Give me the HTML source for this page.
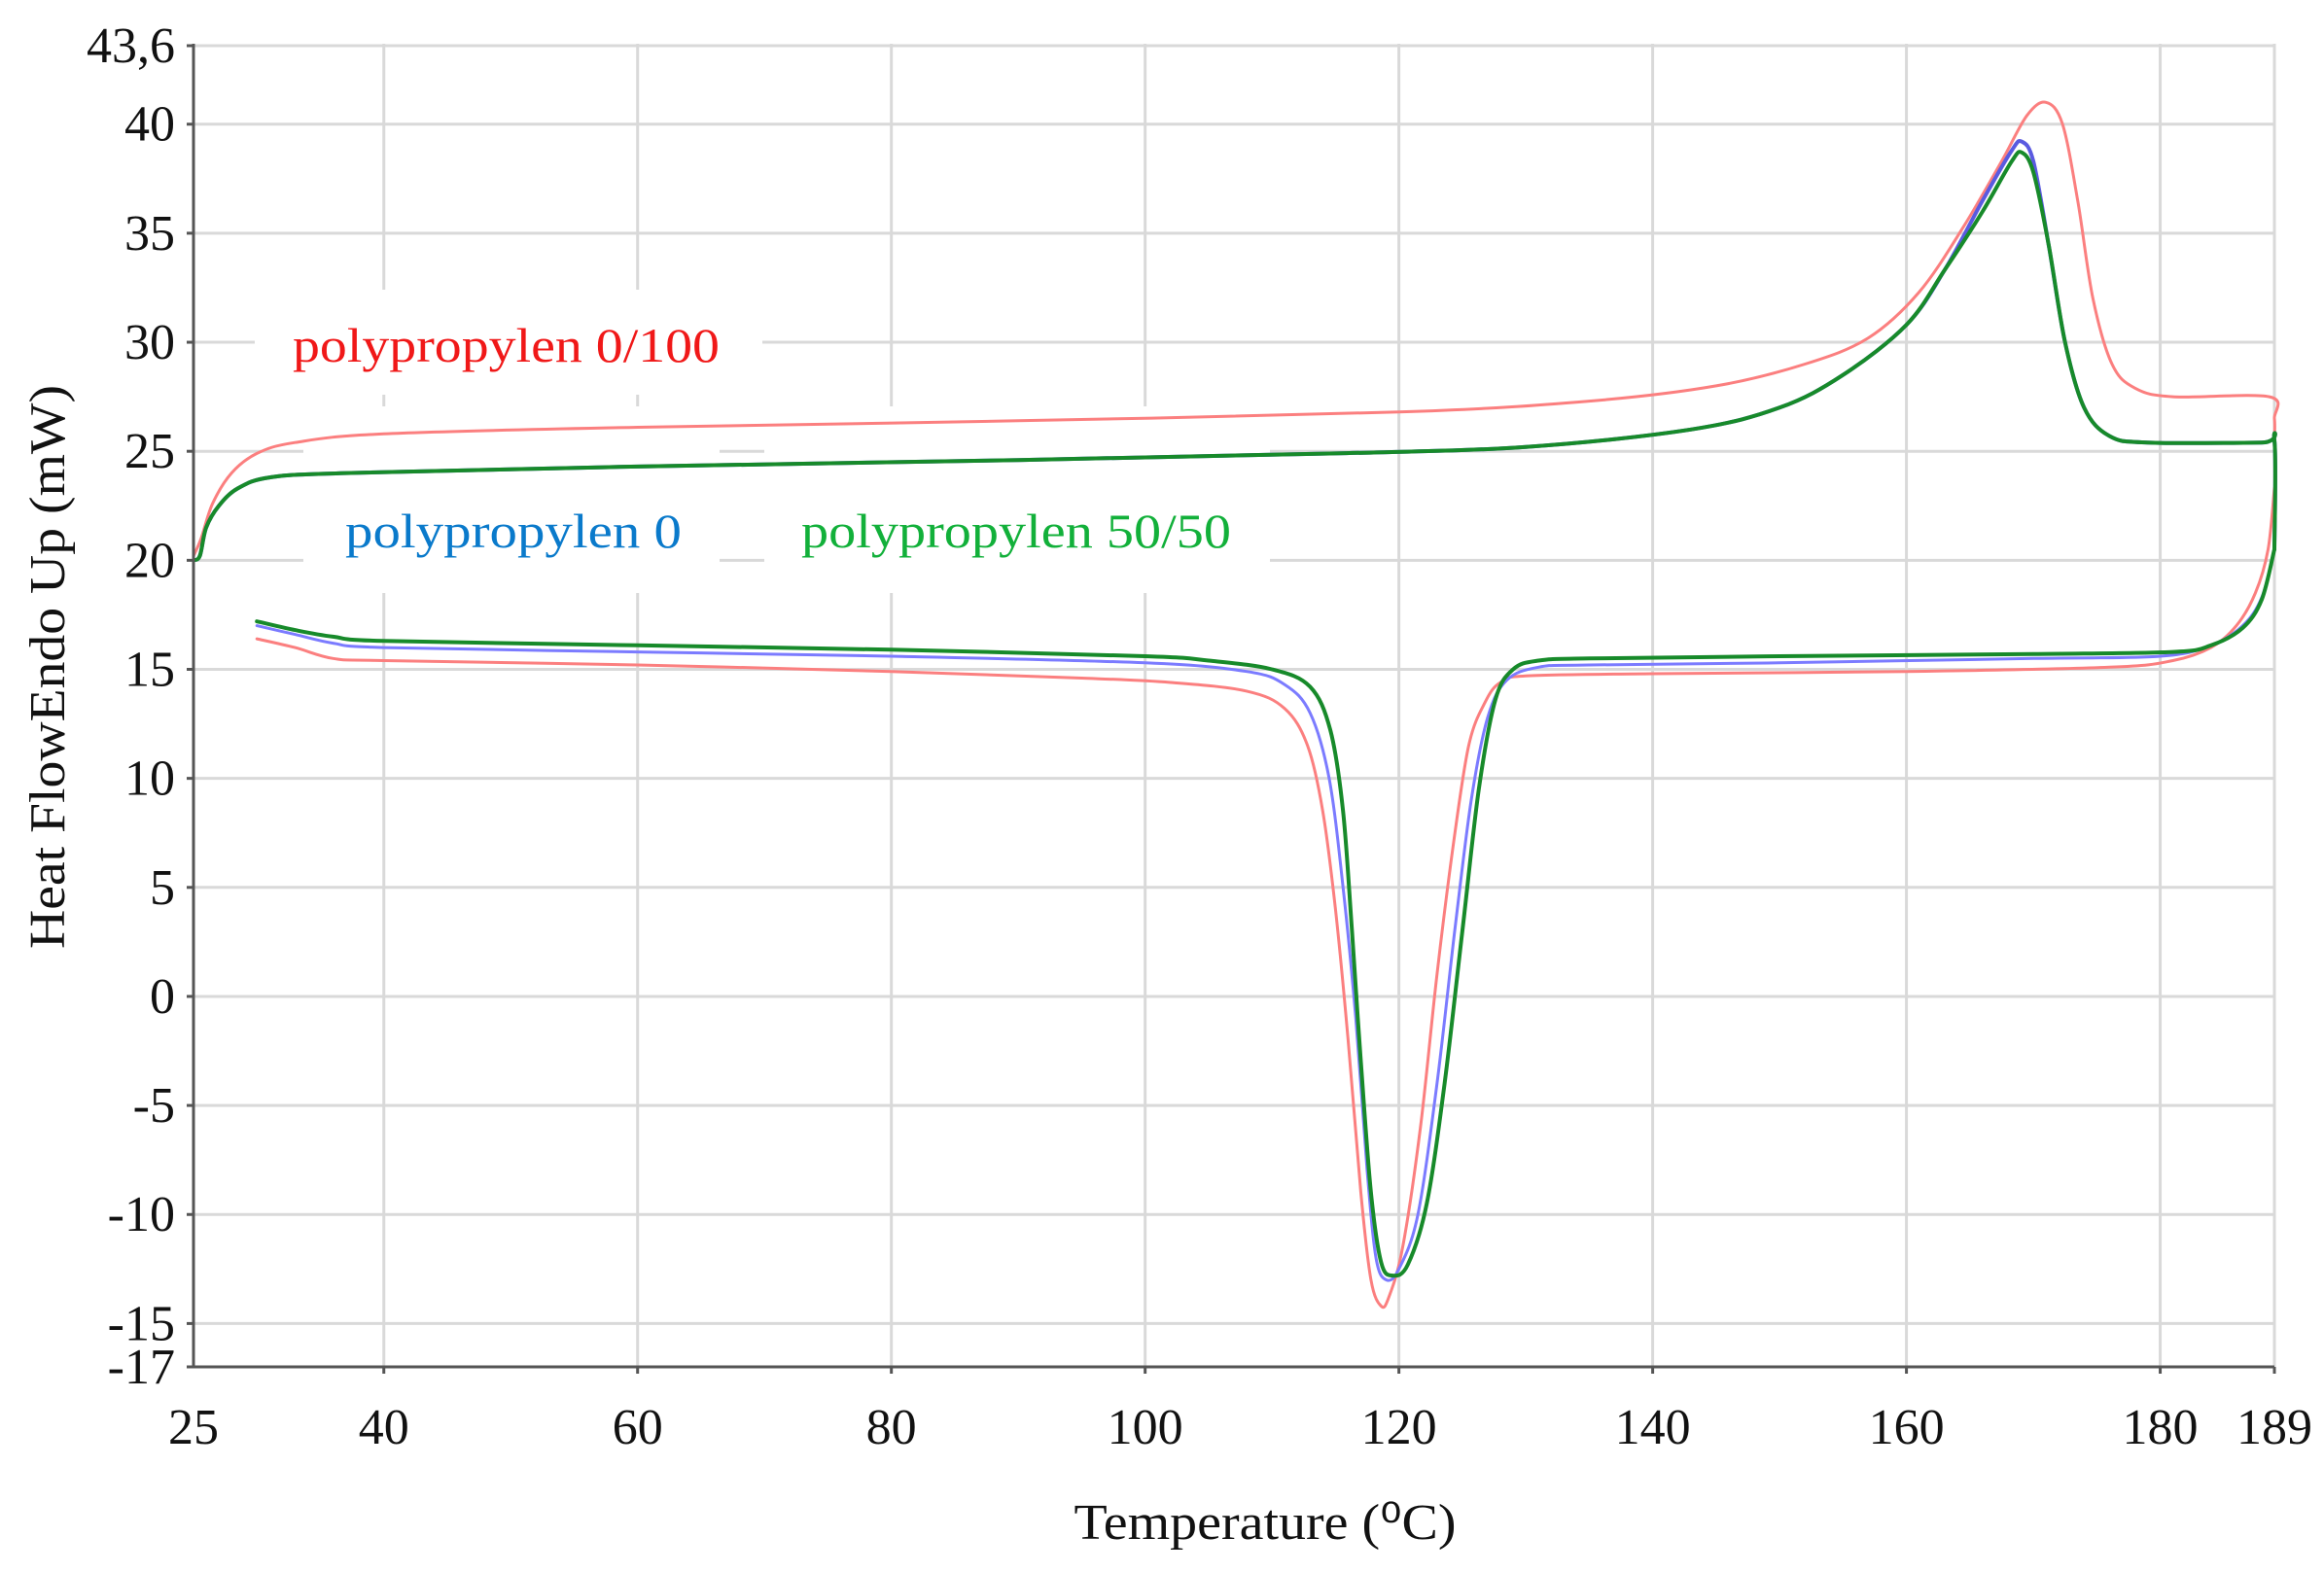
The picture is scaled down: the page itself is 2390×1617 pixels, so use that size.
<!DOCTYPE html>
<html><head><meta charset="utf-8"><style>
html,body{margin:0;padding:0;background:#fff;}
svg{display:block;}
text{font-family:"Liberation Serif",serif;}
</style></head><body>
<svg id="s" width="2390" height="1617" viewBox="0 0 2390 1617" xmlns="http://www.w3.org/2000/svg">
<rect width="2390" height="1617" fill="#fff"/>
<g id="grid" stroke="#d9d9d9" stroke-width="3"></g>
<!-- label background boxes -->
<rect x="262" y="298" width="522" height="108" fill="#fff"/>
<rect x="312" y="418" width="428" height="192" fill="#fff"/>
<rect x="786" y="418" width="520" height="192" fill="#fff"/>
<g id="curves" fill="none" stroke-linejoin="round" stroke-linecap="round"></g>
<g stroke="#555" stroke-width="3" fill="none">
<line x1="199" y1="45" x2="199" y2="1406"/>
<line x1="199" y1="1406" x2="2339" y2="1406"/>
</g>
<g id="ticks" stroke="#555" stroke-width="3"></g>
<g id="ylab" font-size="52" text-anchor="end" fill="#111"></g>
<g id="xlab" font-size="52" text-anchor="middle" fill="#111"></g>
<text x="301" y="372" font-size="50" fill="#f01818" textLength="439" lengthAdjust="spacingAndGlyphs">polypropylen 0/100</text>
<text x="355" y="563" font-size="50" fill="#0a7acb" textLength="346" lengthAdjust="spacingAndGlyphs">polypropylen 0</text>
<text x="824" y="563" font-size="50" fill="#12b03a" textLength="442" lengthAdjust="spacingAndGlyphs">polypropylen 50/50</text>
<text x="1301" y="1583" font-size="52" text-anchor="middle" fill="#111" textLength="393" lengthAdjust="spacingAndGlyphs">Temperature (⁰C)</text>
<text transform="translate(66,686) rotate(-90)" font-size="52" text-anchor="middle" fill="#111" textLength="580" lengthAdjust="spacingAndGlyphs">Heat FlowEndo Up (mW)</text>
</svg>
<script>
var NS="http://www.w3.org/2000/svg";
function X(t){return 199+(t-25)*(2140/164);}
function Y(v){return 47+(43.6-v)*22.43;}
function el(p,n,a,txt){var e=document.createElementNS(NS,n);for(var k in a)e.setAttribute(k,a[k]);if(txt!==undefined)e.textContent=txt;document.getElementById(p).appendChild(e);return e;}
var xt=[40,60,80,100,120,140,160,180,189];
xt.forEach(function(t){var x=X(t);
 el("grid","line",{x1:x,y1:45,x2:x,y2:1406});
 el("ticks","line",{x1:x,y1:1406,x2:x,y2:1413});});
el("xlab","text",{x:X(25),y:1485},"25");
xt.forEach(function(t){el("xlab","text",{x:X(t),y:1485},String(t));});
var yt=[40,35,30,25,20,15,10,5,0,-5,-10,-15];
el("grid","line",{x1:199,y1:Y(43.6),x2:2339,y2:Y(43.6)});
yt.forEach(function(v){var y=Y(v);
 el("grid","line",{x1:199,y1:y,x2:2339,y2:y});
 el("ticks","line",{x1:192,y1:y,x2:199,y2:y});});
el("ticks","line",{x1:192,y1:Y(43.6),x2:199,y2:Y(43.6)});
el("ticks","line",{x1:192,y1:1406,x2:199,y2:1406});
yt.forEach(function(v){el("ylab","text",{x:180,y:Y(v)+17},String(v));});
el("ylab","text",{x:180,y:Y(43.6)+17},"43,6");
el("ylab","text",{x:180,y:1406+17},"-17");
function path(pts){
 var P=pts.map(function(p){return [X(p[0]),Y(p[1])];});
 var d="M"+P[0][0].toFixed(1)+","+P[0][1].toFixed(1);
 for(var i=0;i<P.length-1;i++){
  var p0=P[i-1]||P[i],p1=P[i],p2=P[i+1],p3=P[i+2]||P[i+1];
  var c1=[p1[0]+(p2[0]-p0[0])/6,p1[1]+(p2[1]-p0[1])/6];
  var c2=[p2[0]-(p3[0]-p1[0])/6,p2[1]-(p3[1]-p1[1])/6];
  d+="C"+c1[0].toFixed(1)+","+c1[1].toFixed(1)+" "+c2[0].toFixed(1)+","+c2[1].toFixed(1)+" "+p2[0].toFixed(1)+","+p2[1].toFixed(1);
 }
 return d;}
var red=[[25,20.2],[25.6,21],[26.5,22.6],[28,24],[30,24.9],[33,25.4],[40,25.8],[60,26.1],[90,26.4],[120,26.8],[135,27.3],[145,28],[152,29],[157,30.2],[161,32.3],[164.5,35.3],[167.5,38.3],[169.5,40.4],[171,41],[172.3,40],[173.5,36.5],[174.7,32],[176.2,29],[178,27.9],[181,27.5],[188.6,27.5],[189,26.5],[189,25.5]];
var redC=[[189,23.3],[188.5,20.5],[187.5,18.5],[186,17],[184,16],[181,15.4],[176,15.1],[160,14.9],[140,14.8],[130,14.7],[128,14.4],[126.8,13.5],[125.5,11.5],[124.3,7],[123,1],[121.7,-6],[120.3,-11.5],[119.2,-13.8],[118.6,-14.2],[117.8,-13],[117,-9],[116,-2],[115,4],[114,8.5],[112.8,11.5],[111,13.2],[108,14],[102,14.4],[95,14.6],[80,14.9],[60,15.2],[40,15.4],[36,15.5],[33,16],[30,16.4]];
var blue=[[25,20],[25.5,20.2],[26,21.5],[27,22.5],[28.5,23.3],[31,23.8],[37,24],[60,24.3],[90,24.6],[115,24.9],[130,25.2],[143,26],[150,27],[155,28.5],[160,30.8],[163,33.3],[166,36.5],[168.3,38.8],[169.1,39.2],[170,38.3],[171.2,34.5],[172.5,30],[174,27],[176,25.7],[179,25.4],[188,25.4],[189,25.5],[189,20.5]];
var green=blue.map(function(p){var v=p[1];if(p[0]>=166&&p[0]<=170.5)v-=0.5;return [p[0],v];});
var blueC=[[189,20.5],[188,18.3],[186.5,17],[184,16.1],[180,15.6],[170,15.5],[150,15.3],[135,15.2],[131,15.1],[128.5,14.5],[127,12.8],[125.7,9],[124.4,3],[123,-4],[121.5,-10],[120,-12.5],[119,-13],[118.2,-12],[117.5,-8],[116.6,-1],[115.6,5],[114.5,10],[113,13],[111,14.3],[108,14.9],[100,15.3],[80,15.6],[60,15.8],[40,16],[36,16.2],[33,16.6],[30,17]];
var greenC=[[189,20.5],[188,18.2],[186.5,16.9],[184,16.1],[181,15.8],[170,15.7],[150,15.6],[135,15.5],[131,15.4],[129,15],[127.6,13.6],[126.3,9.5],[125,3],[123.6,-4],[122.2,-9.5],[120.7,-12.3],[119.5,-12.8],[118.6,-12.2],[117.8,-9],[117,-3],[116.3,3],[115.6,8.5],[114.6,12.2],[113,14.2],[110,15],[105,15.4],[100,15.6],[80,15.9],[60,16.1],[40,16.3],[36,16.5],[33,16.8],[30,17.2]];
el("curves","path",{d:path(red),stroke:"#fb7f7f","stroke-width":3});
el("curves","path",{d:path(redC),stroke:"#fb7f7f","stroke-width":3});
el("curves","path",{d:path(blueC),stroke:"#7b7bff","stroke-width":3});
el("curves","path",{d:path(blue),stroke:"#5a5ae0","stroke-width":4});
el("curves","path",{d:path(green),stroke:"#178a2a","stroke-width":4});
el("curves","path",{d:path(greenC),stroke:"#178a2a","stroke-width":4});
</script>
</body></html>
